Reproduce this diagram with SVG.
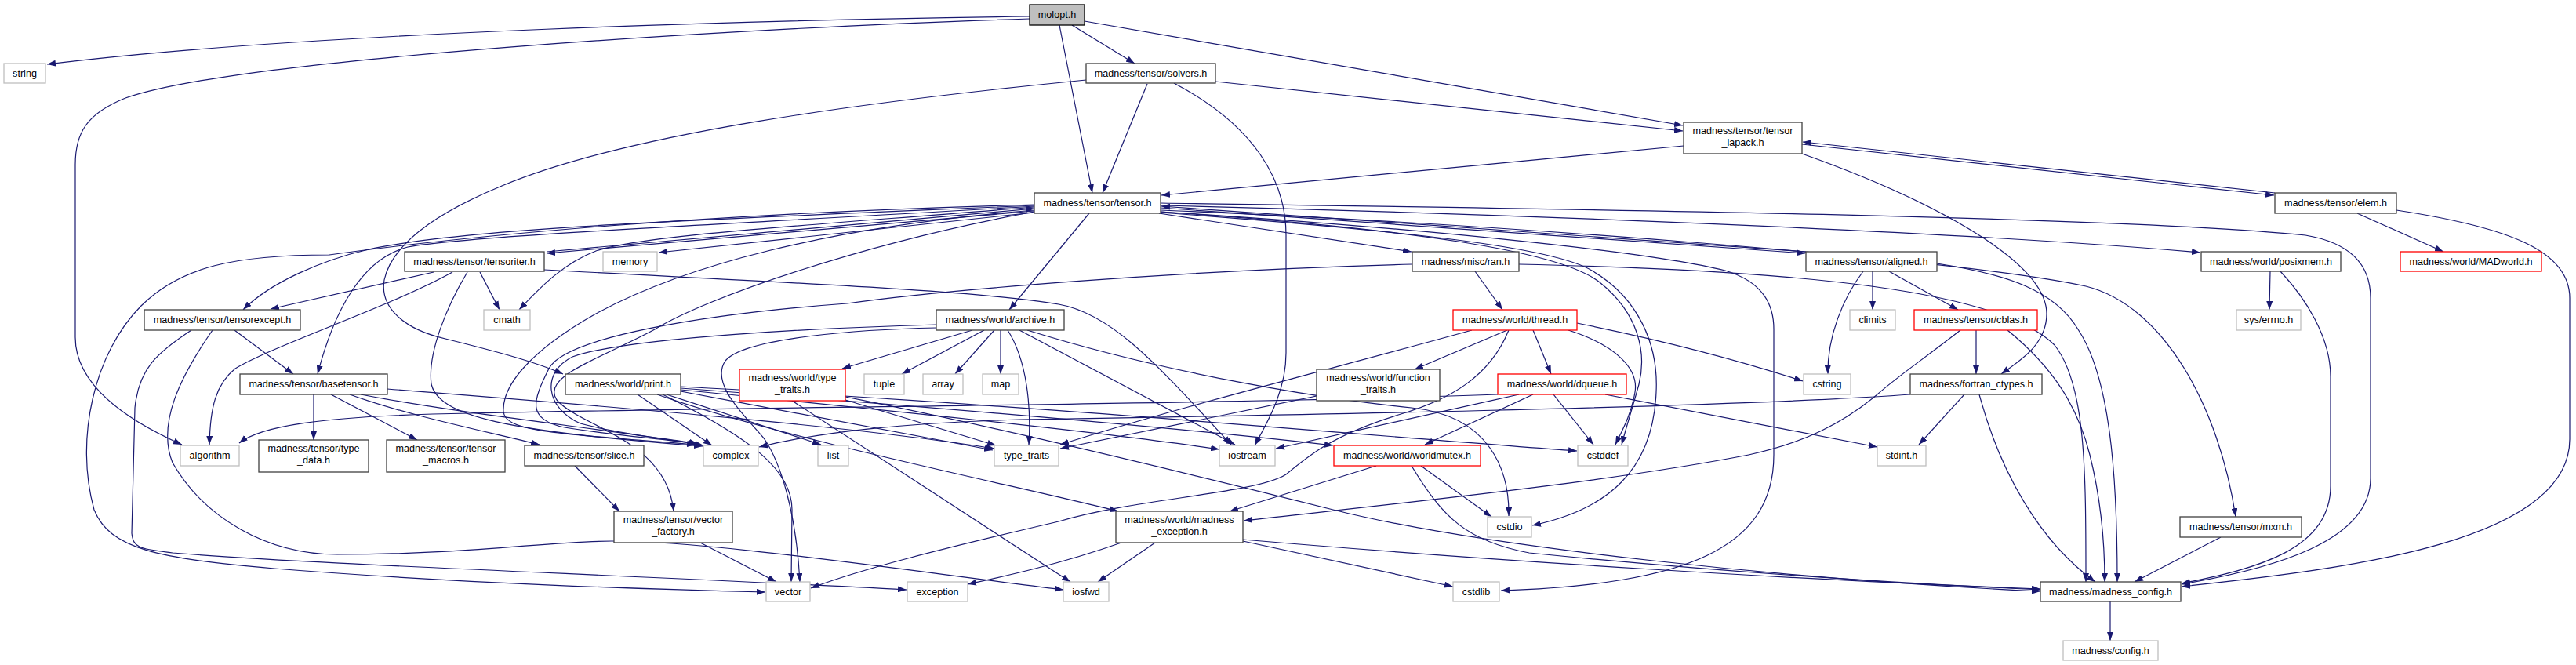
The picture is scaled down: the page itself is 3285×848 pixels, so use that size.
<svg xmlns="http://www.w3.org/2000/svg" width="3285" height="848" viewBox="0 0 3285 848">
<defs>
<style>
.b{fill:#fff;stroke:#404040;stroke-width:1.3}
.g{fill:#fff;stroke:#bfbfbf;stroke-width:1.3}
.r{fill:#fff;stroke:#ff0000;stroke-width:1.3}
.m{fill:#bfbfbf;stroke:#000;stroke-width:1.3}
text{font-family:"Liberation Sans",Arial,Helvetica,sans-serif;font-size:12.6px;fill:#000;text-anchor:middle}
.e path{fill:none;stroke:#191970;stroke-width:1.2;marker-end:url(#a)}
</style>
<marker id="a" viewBox="0 0 11 8" refX="11" refY="4" markerWidth="11" markerHeight="8" markerUnits="userSpaceOnUse" orient="auto"><path d="M0,0L11,4L0,8z" fill="#191970"/></marker>
</defs>
<rect width="3285" height="848" fill="#fff"/>
<g class="e" id="edges">
<path d="M1313,21 C1000,25 400,40 60,82"/>
<path d="M1313,24 C950,35 300,75 160,125 C110,145 96,170 96,210 L96,430 C96,490 160,535 232,567"/>
<path d="M1367,32 L1447,81"/>
<path d="M1351,32 L1393,246"/>
<path d="M1383,27 L2146,160"/>
<path d="M1385,102 C1100,130 800,170 640,237 C560,270 500,310 490,357 C484,392 515,420 568,432 C620,445 680,460 718,477"/>
<path d="M1463,107 L1406,246"/>
<path d="M1497,106 C1600,160 1640,230 1640,300 L1640,450 C1640,500 1615,540 1600,568"/>
<path d="M1550,104 L2146,167"/>
<path d="M2147,186 L1481,249"/>
<path d="M2298,196 C2450,250 2610,330 2610,400 C2610,440 2575,460 2552,477"/>
<path d="M2298,184 L2900,249"/>
<path d="M2901,246 L2299,181"/>
<path d="M3006,272 L3116,321"/>
<path d="M3056,268 C3200,290 3277,320 3277,380 L3277,560 C3277,690 3000,725 2782,748"/>
<path d="M1319,269 L697,323"/>
<path d="M697,321 L1319,266"/>
<path d="M1319,271 L840,322"/>
<path d="M1319,264 C1000,290 820,300 760,320 C720,335 690,365 662,395"/>
<path d="M1319,262 C900,280 600,290 470,318 C410,332 345,360 310,395"/>
<path d="M1319,263 C950,285 600,300 520,315 C460,330 425,400 405,477"/>
<path d="M1389,272 L1287,395"/>
<path d="M1478,272 L1800,321"/>
<path d="M1480,265 L2302,323"/>
<path d="M2303,321 L1481,263"/>
<path d="M1480,262 C1900,272 2500,295 2806,322"/>
<path d="M1480,268 C1900,285 2500,330 2660,365 C2760,390 2830,520 2851,659"/>
<path d="M1480,259 C1900,265 2700,275 2940,300 C3000,310 3023,340 3023,380 L3023,610 C3023,690 2900,725 2782,745"/>
<path d="M1480,270 C1800,290 2100,320 2200,345 C2250,360 2262,390 2262,420 L2262,580 C2262,700 2150,745 1914,753"/>
<path d="M1480,271 C1800,295 1980,315 2030,345 C2090,380 2115,440 2112,500 C2108,600 2050,650 1954,670"/>
<path d="M1480,270 C1800,292 1990,320 2040,360 C2090,400 2100,450 2090,490 C2082,520 2075,540 2068,567"/>
<path d="M1319,261 C900,272 600,300 420,325 C300,325 230,340 180,390 C120,450 95,560 120,650 C140,700 200,712 350,725 C600,745 850,752 976,755"/>
<path d="M1319,268 C1050,290 870,340 760,400 C680,445 640,490 642,525 C645,550 700,552 887,567"/>
<path d="M1319,270 C1100,310 900,380 835,420 C760,460 690,480 710,510 C740,545 850,560 859,652"/>
<path d="M1801,337 C1500,345 1200,370 1080,387 C900,400 720,430 700,470 C680,510 670,535 720,545 C780,555 850,560 888,566"/>
<path d="M1881,346 L1916,395"/>
<path d="M1937,337 C2300,345 2550,370 2620,440 C2660,490 2660,600 2660,742"/>
<path d="M553,347 L345,394"/>
<path d="M577,347 C500,390 350,440 300,470 C275,490 268,520 267,567"/>
<path d="M596,347 C570,390 545,450 550,490 C560,530 640,550 896,569"/>
<path d="M612,347 L637,395"/>
<path d="M694,344 C950,358 1250,370 1350,388 C1420,400 1480,470 1570,567"/>
<path d="M299,421 L374,477"/>
<path d="M244,421 C200,450 177,470 172,520 L168,680 C170,700 180,700 220,705 C400,720 800,733 1156,752"/>
<path d="M271,421 C230,480 200,540 220,590 C260,660 340,707 430,707 C600,707 700,690 780,690 C900,690 1100,720 1356,752"/>
<path d="M400,503 L400,561"/>
<path d="M422,503 L532,561"/>
<path d="M446,503 C520,530 620,550 688,567"/>
<path d="M494,496 C800,520 1100,545 1268,572"/>
<path d="M460,503 C600,530 800,550 897,568"/>
<path d="M1910,503 C1600,515 900,520 600,527 C400,530 330,545 305,565"/>
<path d="M813,503 L908,568"/>
<path d="M850,503 L1047,567"/>
<path d="M845,503 C960,560 1010,600 1010,650 L1009,742"/>
<path d="M838,503 C1000,560 1300,620 1426,652"/>
<path d="M868,499 L1266,574"/>
<path d="M868,497 C1100,520 1400,550 1555,573"/>
<path d="M868,495 C1200,520 1500,545 1700,568"/>
<path d="M868,493 C1300,515 1800,560 2011,575"/>
<path d="M1078,510 L1270,568"/>
<path d="M1010,511 L1365,742"/>
<path d="M1078,506 C1250,540 1500,600 1700,650 C1900,700 2300,740 2602,754"/>
<path d="M1679,505 L1352,572"/>
<path d="M1922,421 L1804,471"/>
<path d="M1955,421 L1978,477"/>
<path d="M1877,421 C1700,470 1500,520 1352,567"/>
<path d="M1924,421 C1900,480 1850,510 1780,530 C1700,555 1670,580 1640,605 C1600,630 1450,635 1350,665 C1200,700 1100,725 1034,750"/>
<path d="M2011,412 C2150,440 2250,470 2299,486"/>
<path d="M2000,421 C2060,440 2090,470 2085,500 C2080,530 2068,550 2060,567"/>
<path d="M1981,503 L2032,567"/>
<path d="M2047,503 L2394,570"/>
<path d="M1955,503 L1817,567"/>
<path d="M1937,503 L1627,572"/>
<path d="M1755,594 L1568,652"/>
<path d="M1812,594 L1902,659"/>
<path d="M1800,594 C1840,660 1870,690 1950,705 C2200,730 2450,745 2602,752"/>
<path d="M2520,421 L2520,477"/>
<path d="M2500,421 C2450,460 2420,480 2394,503 C2350,540 2300,565 2230,580 C2050,615 1800,640 1586,664"/>
<path d="M2560,421 C2620,470 2650,520 2665,580 C2680,640 2684,700 2684,742"/>
<path d="M2436,503 C2200,520 1600,530 1300,535 C1150,540 1050,550 968,570"/>
<path d="M2505,503 L2447,567"/>
<path d="M2524,503 C2550,600 2600,690 2672,742"/>
<path d="M2388,346 L2388,395"/>
<path d="M2409,346 L2497,395"/>
<path d="M2376,346 C2350,380 2330,430 2331,477"/>
<path d="M2470,336 C2560,350 2620,370 2650,420 C2690,480 2700,600 2700,742"/>
<path d="M2895,346 L2894,395"/>
<path d="M2908,346 C2940,380 2972,430 2972,480 L2972,620 C2972,700 2880,725 2782,744"/>
<path d="M2832,685 L2722,742"/>
<path d="M1430,692 C1350,720 1280,735 1234,745"/>
<path d="M1473,692 L1400,742"/>
<path d="M1585,690 L1853,748"/>
<path d="M1585,688 C1900,715 2300,740 2602,751"/>
<path d="M893,692 L990,742"/>
<path d="M733,594 L790,652"/>
<path d="M2691,767 L2691,817"/>
<path d="M1240,421 L1074,470"/>
<path d="M1255,421 L1150,477"/>
<path d="M1268,421 L1218,477"/>
<path d="M1276,421 L1276,477"/>
<path d="M1285,421 C1310,460 1315,520 1312,567"/>
<path d="M1300,421 L1575,567"/>
<path d="M1310,421 C1500,480 1700,510 1800,520 C1900,530 1925,600 1924,658"/>
<path d="M1194,418 C1100,420 950,430 925,460 C905,490 950,530 975,560 C995,590 1015,650 1020,742"/>
<path d="M1194,414 C1050,418 800,430 730,455 C690,475 695,520 740,540 C800,556 860,560 890,566"/>
</g>
<g id="n_molopt"><rect class="m" x="1313" y="6" width="70" height="26"/><text x="1348" y="23">molopt.h</text></g>
<g id="n_string"><rect class="g" x="5" y="81" width="53" height="25"/><text x="31.5" y="98">string</text></g>
<g id="n_solvers"><rect class="b" x="1385" y="81" width="165" height="25"/><text x="1467.5" y="98">madness/tensor/solvers.h</text></g>
<g id="n_lapack"><rect class="b" x="2147" y="156" width="151" height="40"/><text x="2222.5" y="171">madness/tensor/tensor</text><text x="2222.5" y="186">_lapack.h</text></g>
<g id="n_tensor"><rect class="b" x="1319" y="246" width="161" height="26"/><text x="1399.5" y="263">madness/tensor/tensor.h</text></g>
<g id="n_elem"><rect class="b" x="2901" y="246" width="155" height="26"/><text x="2978.5" y="263">madness/tensor/elem.h</text></g>
<g id="n_tensoriter"><rect class="b" x="516" y="321" width="178" height="25"/><text x="605" y="338">madness/tensor/tensoriter.h</text></g>
<g id="n_memory"><rect class="g" x="769" y="321" width="69" height="25"/><text x="803.5" y="338">memory</text></g>
<g id="n_ran"><rect class="b" x="1801" y="321" width="136" height="25"/><text x="1869" y="338">madness/misc/ran.h</text></g>
<g id="n_aligned"><rect class="b" x="2303" y="321" width="167" height="25"/><text x="2386.5" y="338">madness/tensor/aligned.h</text></g>
<g id="n_posixmem"><rect class="b" x="2807" y="321" width="178" height="25"/><text x="2896" y="338">madness/world/posixmem.h</text></g>
<g id="n_madworld"><rect class="r" x="3061" y="321" width="180" height="25"/><text x="3151" y="338">madness/world/MADworld.h</text></g>
<g id="n_tensorexcept"><rect class="b" x="184" y="395" width="199" height="26"/><text x="283.5" y="412">madness/tensor/tensorexcept.h</text></g>
<g id="n_cmath"><rect class="g" x="617" y="395" width="59" height="26"/><text x="646.5" y="412">cmath</text></g>
<g id="n_archive"><rect class="b" x="1194" y="395" width="163" height="26"/><text x="1275.5" y="412">madness/world/archive.h</text></g>
<g id="n_thread"><rect class="r" x="1853" y="395" width="158" height="26"/><text x="1932" y="412">madness/world/thread.h</text></g>
<g id="n_climits"><rect class="g" x="2359" y="395" width="58" height="26"/><text x="2388" y="412">climits</text></g>
<g id="n_cblas"><rect class="r" x="2441" y="395" width="157" height="26"/><text x="2519.5" y="412">madness/tensor/cblas.h</text></g>
<g id="n_errno"><rect class="g" x="2852" y="395" width="82" height="26"/><text x="2893" y="412">sys/errno.h</text></g>
<g id="n_basetensor"><rect class="b" x="306" y="477" width="188" height="26"/><text x="400" y="494">madness/tensor/basetensor.h</text></g>
<g id="n_print"><rect class="b" x="721" y="477" width="147" height="26"/><text x="794.5" y="494">madness/world/print.h</text></g>
<g id="n_wtypetraits"><rect class="r" x="943" y="471" width="135" height="40"/><text x="1010.5" y="486">madness/world/type</text><text x="1010.5" y="501">_traits.h</text></g>
<g id="n_tuple"><rect class="g" x="1102" y="477" width="51" height="26"/><text x="1127.5" y="494">tuple</text></g>
<g id="n_array"><rect class="g" x="1177" y="477" width="51" height="26"/><text x="1202.5" y="494">array</text></g>
<g id="n_map"><rect class="g" x="1253" y="477" width="46" height="26"/><text x="1276" y="494">map</text></g>
<g id="n_functraits"><rect class="b" x="1679" y="471" width="157" height="40"/><text x="1757.5" y="486">madness/world/function</text><text x="1757.5" y="501">_traits.h</text></g>
<g id="n_dqueue"><rect class="r" x="1910" y="477" width="164" height="26"/><text x="1992" y="494">madness/world/dqueue.h</text></g>
<g id="n_cstring"><rect class="g" x="2300" y="477" width="60" height="26"/><text x="2330" y="494">cstring</text></g>
<g id="n_fortran"><rect class="b" x="2436" y="477" width="168" height="26"/><text x="2520" y="494">madness/fortran_ctypes.h</text></g>
<g id="n_algorithm"><rect class="g" x="230" y="568" width="75" height="26"/><text x="267.5" y="585">algorithm</text></g>
<g id="n_typedata"><rect class="b" x="330" y="561" width="140" height="41"/><text x="400" y="576">madness/tensor/type</text><text x="400" y="591">_data.h</text></g>
<g id="n_macros"><rect class="b" x="493" y="561" width="151" height="41"/><text x="568.5" y="576">madness/tensor/tensor</text><text x="568.5" y="591">_macros.h</text></g>
<g id="n_slice"><rect class="b" x="669" y="568" width="152" height="26"/><text x="745" y="585">madness/tensor/slice.h</text></g>
<g id="n_complex"><rect class="g" x="897" y="568" width="70" height="26"/><text x="932" y="585">complex</text></g>
<g id="n_list"><rect class="g" x="1043" y="568" width="39" height="26"/><text x="1062.5" y="585">list</text></g>
<g id="n_typetraits"><rect class="g" x="1268" y="568" width="82" height="26"/><text x="1309" y="585">type_traits</text></g>
<g id="n_iostream"><rect class="g" x="1555" y="568" width="71" height="26"/><text x="1590.5" y="585">iostream</text></g>
<g id="n_worldmutex"><rect class="r" x="1701" y="568" width="187" height="26"/><text x="1794.5" y="585">madness/world/worldmutex.h</text></g>
<g id="n_cstddef"><rect class="g" x="2012" y="568" width="64" height="26"/><text x="2044" y="585">cstddef</text></g>
<g id="n_stdint"><rect class="g" x="2394" y="568" width="62" height="26"/><text x="2425" y="585">stdint.h</text></g>
<g id="n_vecfactory"><rect class="b" x="783" y="652" width="151" height="40"/><text x="858.5" y="667">madness/tensor/vector</text><text x="858.5" y="682">_factory.h</text></g>
<g id="n_mexception"><rect class="b" x="1423" y="652" width="162" height="40"/><text x="1504" y="667">madness/world/madness</text><text x="1504" y="682">_exception.h</text></g>
<g id="n_cstdio"><rect class="g" x="1897" y="659" width="56" height="26"/><text x="1925" y="676">cstdio</text></g>
<g id="n_mxm"><rect class="b" x="2780" y="659" width="155" height="26"/><text x="2857.5" y="676">madness/tensor/mxm.h</text></g>
<g id="n_vector"><rect class="g" x="977" y="742" width="56" height="25"/><text x="1005" y="759">vector</text></g>
<g id="n_exception"><rect class="g" x="1157" y="742" width="77" height="25"/><text x="1195.5" y="759">exception</text></g>
<g id="n_iosfwd"><rect class="g" x="1356" y="742" width="58" height="25"/><text x="1385" y="759">iosfwd</text></g>
<g id="n_cstdlib"><rect class="g" x="1853" y="742" width="59" height="25"/><text x="1882.5" y="759">cstdlib</text></g>
<g id="n_mconfig"><rect class="b" x="2602" y="742" width="179" height="25"/><text x="2691.5" y="759">madness/madness_config.h</text></g>
<g id="n_config"><rect class="g" x="2631" y="817" width="121" height="25"/><text x="2691.5" y="834">madness/config.h</text></g>
</svg>
